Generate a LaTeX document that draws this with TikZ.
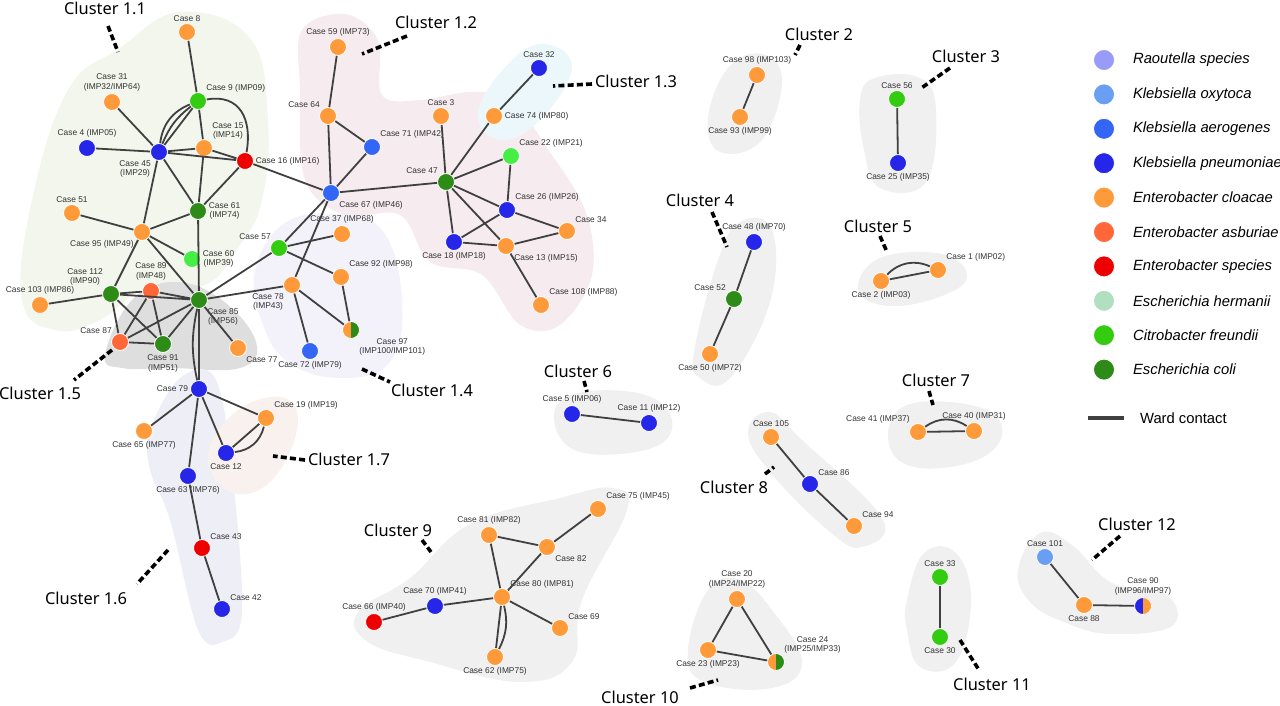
\documentclass[tikz,border=0pt]{standalone}
\usepackage{fontspec}
\setmainfont{Liberation Sans}
\newfontfamily\clfont{Noto Sans}
\usepackage{tikz}
\definecolor{raou}{HTML}{9A9AF8}
\definecolor{koxy}{HTML}{6A9EF2}
\definecolor{kaer}{HTML}{3366F5}
\definecolor{kpne}{HTML}{2626E8}
\definecolor{eclo}{HTML}{FF9A3A}
\definecolor{easb}{HTML}{FF6638}
\definecolor{espe}{HTML}{EE0000}
\definecolor{eher}{HTML}{B0E0C0}
\definecolor{cfre}{HTML}{33CC11}
\definecolor{cfrl}{HTML}{44EE44}
\definecolor{ecol}{HTML}{2E8B17}
% cluster areas
\definecolor{hone}{HTML}{F2F6EC}
\definecolor{htwo}{HTML}{F6ECEF}
\definecolor{hthree}{HTML}{ECF7FB}
\definecolor{hfour}{HTML}{F3F1F9}
\definecolor{hfive}{HTML}{DEDEDE}
\definecolor{hsix}{HTML}{EEEEF7}
\definecolor{hseven}{HTML}{F8F1EE}
\definecolor{hgrey}{HTML}{F0F0F0}
\tikzset{
  cs/.style={circle, draw=white, line width=0.4pt, minimum size=8.5pt, inner sep=0pt, fill=#1},
  lb/.style={font=\fontsize{4.2}{4.8}\selectfont, align=center, inner sep=0.8pt, text=black!80},
  edge/.style={draw=black!75, line width=0.9pt},
  hull/.style={fill=#1, draw=none},
  clab/.style={font=\clfont\fontsize{8.2}{9}\selectfont},
  leg/.style={font=\fontsize{7.4}{8}\selectfont, anchor=west},
  tick/.style={line width=1.8pt, dash pattern=on 3pt off 1.6pt},
  half/.style 2 args={cs=#1, path picture={\fill[#2] (path picture bounding box.north) rectangle (path picture bounding box.south east);}}
}
\begin{document}
\begin{tikzpicture}[x=0.5pt, y=-0.5pt]
    \useasboundingbox (0,0) rectangle (1280,706);

    % Cluster areas
    \fill[hull=hone] plot[smooth cycle, tension=0.7] coordinates {(55,330) (22,300) (32,200) (68,90) (120,48) (180,12) (250,38) (268,120) (262,200) (240,245) (205,285) (150,285) (100,320)};
    \fill[hull=htwo] plot[smooth cycle, tension=0.6] coordinates {(302,30) (345,14) (378,40) (382,95) (420,100) (470,92) (512,100) (545,145) (585,210) (592,275) (560,325) (520,325) (482,275) (430,262) (400,215) (345,215) (305,180) (300,90)};
    \fill[hull=hthree] plot[smooth cycle, tension=0.7] coordinates {(478,112) (510,62) (545,44) (572,68) (540,120) (500,140)};
    \fill[hull=hfour] plot[smooth cycle, tension=0.7] coordinates {(255,272) (282,225) (332,214) (382,230) (402,300) (390,362) (340,378) (288,362) (262,322)};
    \fill[hull=hfive] plot[smooth cycle, tension=0.7] coordinates {(105,355) (132,300) (175,282) (222,300) (256,342) (240,368) (170,368) (122,368)};
    \fill[hull=hsix] plot[smooth cycle, tension=0.6] coordinates {(150,430) (180,378) (215,378) (232,470) (242,612) (222,642) (198,630) (170,520) (150,470)};
    \fill[hull=hseven] plot[smooth cycle, tension=0.7] coordinates {(208,455) (238,410) (285,398) (297,430) (270,482) (230,492)};
    \foreach \pts in {
      {(358,612) (410,578) (470,524) (560,498) (612,488) (627,510) (582,600) (572,662) (520,682) (430,662) (368,642)},
      {(708,118) (728,68) (762,54) (782,80) (762,140) (720,152)},
      {(860,100) (875,78) (920,78) (936,110) (926,182) (880,188) (864,150)},
      {(694,352) (718,260) (740,222) (772,230) (770,302) (730,378) (700,378)},
      {(858,290) (880,258) (942,254) (967,276) (942,296) (890,306)},
      {(554,420) (574,394) (642,394) (672,420) (652,448) (580,452)},
      {(888,436) (910,404) (982,408) (1002,435) (972,462) (910,466)},
      {(748,432) (770,412) (802,440) (882,518) (862,547) (830,532) (770,472)},
      {(688,650) (708,590) (740,580) (772,610) (802,662) (772,688) (704,682)},
      {(907,600) (924,553) (956,553) (971,600) (956,662) (920,667) (907,630)},
      {(1018,570) (1040,533) (1072,545) (1112,583) (1166,594) (1172,626) (1110,634) (1064,622) (1030,602)}}
      \fill[hull=hgrey] plot[smooth cycle, tension=0.7] coordinates \pts;

    % Cluster 1.1 / 1.5
    \node[cs=eclo, label={[lb]above:Case 8}] (c8) at (187,32) {};
    \node[cs=eclo, label={[lb]above:Case 31\\(IMP32/IMP64)}] (c31) at (112,102) {};
    \node[cs=cfre, label={[lb]above right:Case 9 (IMP09)}] (c9) at (198,101) {};
    \node[cs=kpne, label={[lb]above:Case  4 (IMP05)}] (c4) at (87,148) {};
    \node[cs=kpne, label={[lb]below left:Case 45\\(IMP29)}] (c45) at (159,152) {};
    \node[cs=eclo, label={[lb]above right:Case 15\\(IMP14)}] (c15) at (204,148) {};
    \node[cs=espe, label={[lb]right:Case 16 (IMP16)}] (c16) at (245,161) {};
    \node[cs=ecol, label={[lb]right:Case 61\\(IMP74)}] (c61) at (198,211) {};
    \node[cs=eclo, label={[lb]above:Case 51}] (c51) at (72,213) {};
    \node[cs=eclo, label={[lb]below left:Case 95 (IMP49)}] (c95) at (142,232) {};
    \node[cs=cfrl, label={[lb]right:Case 60\\(IMP39)}] (c60) at (192,259) {};
    \node[cs=ecol, label={[lb]above left:Case 112\\(IMP90)}] (c112) at (111,294) {};
    \node[cs=easb, label={[lb]above:Case 89\\(IMP48)}] (c89) at (151,291) {};
    \node[cs=eclo, label={[lb]above:Case 103 (IMP86)}] (c103) at (40,305) {};
    \node[cs=ecol, label={[lb]below right:Case 85\\(IMP56)}] (c85) at (199,300) {};
    \node[cs=easb, label={[lb]above left:Case 87}] (c87) at (120,342) {};
    \node[cs=ecol, label={[lb]below:Case 91\\(IMP51)}] (c91) at (163,344) {};
    \node[cs=eclo, label={[lb]below right:Case 77}] (c77) at (238,348) {};

    % Cluster 1.2 / 1.3
    \node[cs=eclo, label={[lb]above:Case 59 (IMP73)}] (c59) at (338,47) {};
    \node[cs=eclo, label={[lb]above left:Case 64}] (c64) at (328,116) {};
    \node[cs=kaer, label={[lb]above right:Case 71 (IMP42)}] (c71) at (372,147) {};
    \node[cs=kaer, label={[lb]below right:Case 67 (IMP46)}] (c67) at (331,193) {};
    \node[cs=eclo, label={[lb]above:Case 3}] (c3) at (441,116) {};
    \node[cs=ecol, label={[lb]above left:Case  47}] (c47) at (446,182) {};
    \node[cs=eclo, label={[lb]right:Case 74 (IMP80)}] (c74) at (494,116) {};
    \node[cs=kpne, label={[lb]above:Case 32}] (c32) at (539,68) {};
    \node[cs=cfrl, label={[lb]above right:Case 22 (IMP21)}] (c22) at (511,156) {};
    \node[cs=kpne, label={[lb]above right:Case 26 (IMP26)}] (c26) at (507,210) {};
    \node[cs=eclo, label={[lb]above right:Case 34}] (c34) at (567,231) {};
    \node[cs=kpne, label={[lb]below:Case 18 (IMP18)}] (c18) at (454,242) {};
    \node[cs=eclo, label={[lb]below right:Case 13 (IMP15)}] (c13) at (506,246) {};
    \node[cs=eclo, label={[lb]above right:Case 108 (IMP88)}] (c108) at (541,305) {};

    % Cluster 1.4
    \node[cs=cfre, label={[lb]above left:Case 57}] (c57) at (279,248) {};
    \node[cs=eclo, label={[lb]above:Case 37 (IMP68)}] (c37) at (342,234) {};
    \node[cs=eclo, label={[lb]above right:Case 92 (IMP98)}] (c92) at (341,277) {};
    \node[cs=eclo, label={[lb]below left:Case 78\\(IMP43)}] (c78) at (292,285) {};
    \node[half={eclo}{ecol}, label={[lb]below right:Case 97\\(IMP100/IMP101)}] (c97) at (351,330) {};
    \node[cs=kaer, label={[lb]below:Case 72 (IMP79)}] (c72) at (310,351) {};

    % Cluster 1.6 / 1.7
    \node[cs=kpne, label={[lb]left:Case 79}] (c79) at (199,389) {};
    \node[cs=eclo, label={[lb]below:Case 65 (IMP77)}] (c65) at (144,431) {};
    \node[cs=eclo, label={[lb]above right:Case 19 (IMP19)}] (c19) at (266,418) {};
    \node[cs=kpne, label={[lb]below:Case 12}] (c12) at (226,453) {};
    \node[cs=kpne, label={[lb]below:Case 63 (IMP76)}] (c63) at (188,476) {};
    \node[cs=espe, label={[lb]above right:Case 43}] (c43) at (202,548) {};
    \node[cs=kpne, label={[lb]above right:Case 42}] (c42) at (222,609) {};

    % Cluster 9
    \node[cs=eclo, label={[lb]above right:Case  75 (IMP45)}] (c75) at (598,509) {};
    \node[cs=eclo, label={[lb]above:Case  81 (IMP82)}] (c81) at (489,535) {};
    \node[cs=eclo, label={[lb]below right:Case  82}] (c82) at (547,547) {};
    \node[cs=eclo, label={[lb]above right:Case 80 (IMP81)}] (c80) at (502,597) {};
    \node[cs=kpne, label={[lb]above:Case 70 (IMP41)}] (c70) at (435,606) {};
    \node[cs=espe, label={[lb]above:Case 66 (IMP40)}] (c66) at (374,622) {};
    \node[cs=eclo, label={[lb]above right:Case 69}] (c69) at (560,628) {};
    \node[cs=eclo, label={[lb]below:Case 62 (IMP75)}] (c62) at (495,657) {};

    % Small clusters
    \node[cs=eclo, label={[lb]above:Case 98 (IMP103)}] (c98) at (757,75) {};
    \node[cs=eclo, label={[lb]below:Case 93 (IMP99)}] (c93) at (740,117) {};
    \node[cs=cfre, label={[lb]above:Case 56}] (c56) at (897,99) {};
    \node[cs=kpne, label={[lb]below:Case 25 (IMP35)}] (c25) at (898,163) {};
    \node[cs=kpne, label={[lb]above:Case 48 (IMP70)}] (c48) at (754,242) {};
    \node[cs=ecol, label={[lb]above left:Case 52}] (c52) at (734,299) {};
    \node[cs=eclo, label={[lb]below:Case 50 (IMP72)}] (c50) at (710,354) {};
    \node[cs=eclo, label={[lb]above right:Case 1 (IMP02)}] (c1) at (938,270) {};
    \node[cs=eclo, label={[lb]below:Case 2 (IMP03)}] (c2) at (881,281) {};
    \node[cs=kpne, label={[lb]above:Case 5 (IMP06)}] (c5) at (572,414) {};
    \node[cs=kpne, label={[lb]above:Case 11 (IMP12)}] (c11) at (649,423) {};
    \node[cs=eclo, label={[lb]above left:Case 41 (IMP37)}] (c41) at (918,432) {};
    \node[cs=eclo, label={[lb]above:Case 40 (IMP31)}] (c40) at (974,431) {};
    \node[cs=eclo, label={[lb]above:Case 105}] (c105) at (771,437) {};
    \node[cs=kpne, label={[lb]above right:Case 86}] (c86) at (810,484) {};
    \node[cs=eclo, label={[lb]above right:Case 94}] (c94) at (854,526) {};
    \node[cs=eclo, label={[lb]above:Case 20\\(IMP24/IMP22)}] (c20) at (737,599) {};
    \node[cs=eclo, label={[lb]below:Case 23 (IMP23)}] (c23) at (708,650) {};
    \node[half={eclo}{ecol}, label={[lb]above right:Case 24\\(IMP25/IMP33)}] (c24) at (776,662) {};
    \node[cs=cfre, label={[lb]above:Case  33}] (c33) at (940,577) {};
    \node[cs=cfre, label={[lb]below:Case  30}] (c30) at (940,637) {};
    \node[cs=koxy, label={[lb]above:Case 101}] (c101) at (1045,557) {};
    \node[cs=eclo, label={[lb]below:Case 88}] (c88) at (1084,605) {};
    \node[half={kpne}{eclo}, label={[lb]above:Case 90\\(IMP96/IMP97)}] (c90) at (1143,606) {};

    % Ward contacts
    \draw[edge] (c8) -- (c9) (c31) -- (c45) (c4) -- (c45) (c9) -- (c45) (c9) -- (c15)
      (c45) -- (c15) (c45) -- (c16) (c15) -- (c16) (c15) -- (c61) (c45) -- (c61) (c45) -- (c95)
      (c16) -- (c61) (c16) -- (c67) (c61) -- (c95) (c61) -- (c85) (c51) -- (c95) (c95) -- (c60)
      (c95) -- (c85) (c95) -- (c112) (c112) -- (c103) (c112) -- (c89) (c112) -- (c85) (c112) -- (c87)
      (c112) -- (c91) (c89) -- (c85) (c89) -- (c87) (c89) -- (c91) (c87) -- (c85) (c87) -- (c91)
      (c91) -- (c85) (c85) -- (c77) (c85) -- (c57) (c85) -- (c78) (c85) -- (c79);
    \draw[edge] (c9) to[bend right=15] (c45) (c9) to[bend right=30] (c45)
      (c9) to[out=10, in=80, looseness=1.3] (c16) (c85) to[bend right=12] (c79);
    \draw[edge] (c57) -- (c67) (c57) -- (c37) (c57) -- (c92) (c67) -- (c78) (c78) -- (c97)
      (c78) -- (c72) (c92) -- (c97) (c59) -- (c64) (c64) -- (c71) (c64) -- (c67) (c71) -- (c67)
      (c67) -- (c47) (c47) -- (c3) (c47) -- (c74) (c74) -- (c32) (c47) -- (c22) (c47) -- (c26)
      (c47) -- (c18) (c47) -- (c13) (c22) -- (c26) (c26) -- (c18) (c26) -- (c34) (c18) -- (c13)
      (c13) -- (c34) (c13) -- (c108);
    \draw[edge] (c79) -- (c65) (c79) -- (c19) (c79) -- (c12) (c79) -- (c63) (c19) -- (c12)
      (c19) to[bend left=35] (c12) (c63) -- (c43) (c43) -- (c42);
    \draw[edge] (c81) -- (c82) (c82) -- (c75) (c81) -- (c80) (c82) -- (c80) (c80) -- (c70)
      (c70) -- (c66) (c80) -- (c69) (c80) -- (c62) (c80) to[bend left=20] (c62);
    \draw[edge] (c98) -- (c93) (c56) -- (c25) (c48) -- (c52) (c52) -- (c50) (c2) -- (c1)
      (c2) to[bend left=35] (c1) (c5) -- (c11) (c41) -- (c40) (c41) to[bend left=35] (c40)
      (c105) -- (c86) (c86) -- (c94) (c20) -- (c23) (c20) -- (c24) (c23) -- (c24)
      (c33) -- (c30) (c101) -- (c88) (c88) -- (c90);

    % Cluster labels
    \node[clab] (l11) at (105,8) {Cluster 1.1};
    \node[clab] (l12) at (436,22) {Cluster 1.2};
    \node[clab] (l13) at (636,81) {Cluster 1.3};
    \node[clab] (l14) at (432,390) {Cluster 1.4};
    \node[clab] (l15) at (40,393) {Cluster 1.5};
    \node[clab] (l16) at (86,598) {Cluster 1.6};
    \node[clab] (l17) at (349,459) {Cluster 1.7};
    \node[clab] (l2) at (819,34) {Cluster 2};
    \node[clab] (l3) at (966,56) {Cluster 3};
    \node[clab] (l4) at (700,200) {Cluster 4};
    \node[clab] (l5) at (878,226) {Cluster 5};
    \node[clab] (l6) at (578,371) {Cluster 6};
    \node[clab] (l7) at (936,380) {Cluster 7};
    \node[clab] (l8) at (734,487) {Cluster 8};
    \node[clab] (l9) at (398,530) {Cluster 9};
    \node[clab] (l10) at (640,697) {Cluster 10};
    \node[clab] (l11b) at (992,684) {Cluster 11};
    \node[clab] (l12b) at (1137,524) {Cluster 12};
    \draw[tick] (108,26) -- (118,52);
    \draw[tick] (407,36) -- (362,54);
    \draw[tick] (592,84) -- (553,86);
    \draw[tick] (362,369) -- (390,382);
    \draw[tick] (112,350) -- (74,380);
    \draw[tick] (168,550) -- (137,584);
    \draw[tick] (305,460) -- (273,456);
    \draw[tick] (800,45) -- (795,55);
    \draw[tick] (950,68) -- (920,89);
    \draw[tick] (712,212) -- (727,247);
    \draw[tick] (880,236) -- (887,252);
    \draw[tick] (584,381) -- (587,392);
    \draw[tick] (929,391) -- (933,405);
    \draw[tick] (765,474) -- (774,467);
    \draw[tick] (422,540) -- (431,552);
    \draw[tick] (690,688) -- (718,680);
    \draw[tick] (960,640) -- (979,670);
    \draw[tick] (1120,536) -- (1092,560);

    % Legend
    \foreach \c/\t [count=\i from 0] in {raou/Raoutella species, koxy/Klebsiella oxytoca,
        kaer/Klebsiella aerogenes, kpne/Klebsiella pneumoniae, eclo/Enterobacter cloacae,
        easb/Enterobacter asburiae, espe/Enterobacter species, eher/Escherichia hermanii,
        cfre/Citrobacter freundii, ecol/Escherichia coli} {
      \node[cs=\c, minimum size=10.5pt] (k\i) at (1104,{60+34.4*\i}) {};
      \node[leg, font=\itshape\fontsize{7.4}{8}\selectfont] at (1126,{60+34.4*\i}) {\t};
    }
    \coordinate (w0) at (1088,418);
    \coordinate (w1) at (1124,418);
    \draw[edge, line width=1.6pt] (w0) -- (w1);
    \node[leg] (ward) at (1133,418) {Ward contact};
\end{tikzpicture}
\end{document}
